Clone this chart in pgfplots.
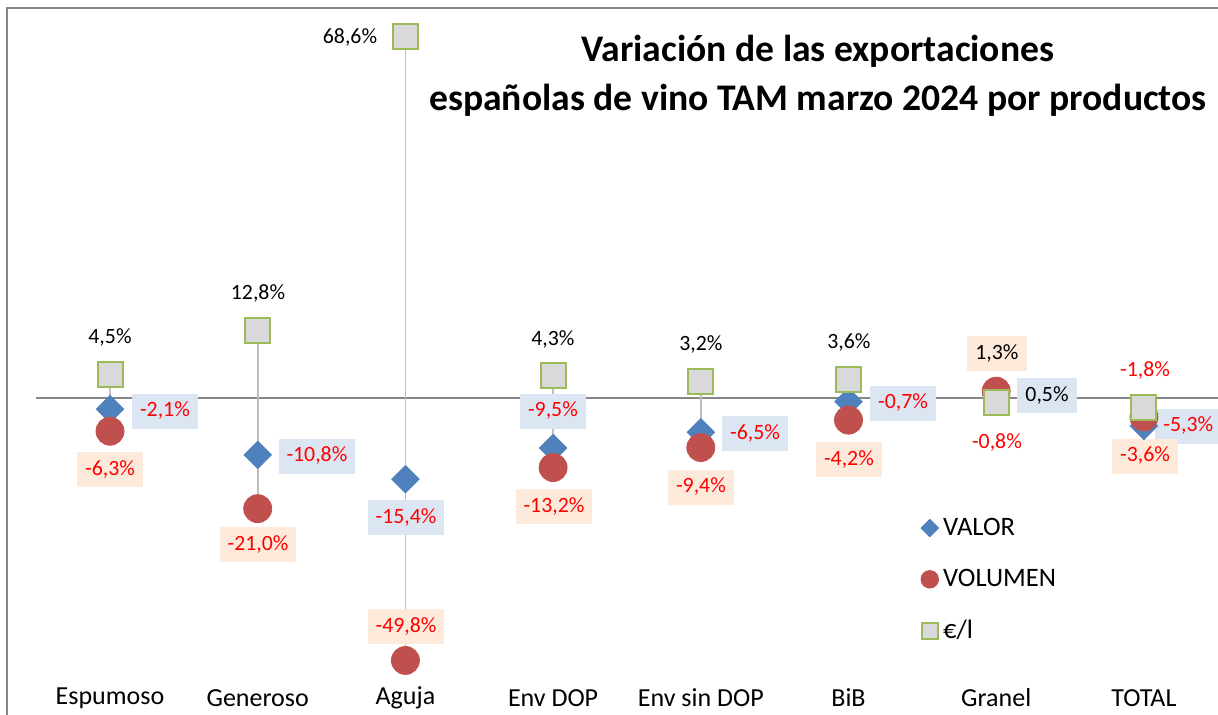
\documentclass[border=0pt]{standalone}
\usepackage{pgfplots}
\pgfplotsset{compat=1.18}
\usepackage{fontspec}
\setmainfont{Carlito}
\definecolor{cval}{RGB}{79,129,189}
\definecolor{cvol}{RGB}{192,80,77}
\definecolor{csqf}{RGB}{217,217,217}
\definecolor{csqd}{RGB}{155,187,89}
\definecolor{bgval}{RGB}{220,230,242}
\definecolor{bgvol}{RGB}{253,234,218}
\definecolor{cred}{RGB}{255,0,0}
\definecolor{cframe}{RGB}{134,134,134}
\definecolor{chilo}{RGB}{191,191,191}
\newcommand\lab{\fontsize{10.9}{12}\selectfont}
\tikzset{
  lbl/.style={font=\lab, inner sep=0pt, text height=7.6pt, text depth=2.2pt},
  bval/.style={lbl, fill=bgval, text=cred, inner xsep=4pt, minimum height=17.5pt},
  bvol/.style={lbl, fill=bgvol, text=cred, inner xsep=4pt, minimum height=17.5pt},
}
\begin{document}
\begin{tikzpicture}
\begin{axis}[
  scale only axis, width=609pt, height=357.5pt,
  xmin=-0.7448, xmax=7.5017, ymin=-60.15, ymax=75.52,
  axis line style={draw=none}, clip=false,
  ytick=\empty, xtick={0,...,7}, major tick length=0pt,
  xticklabels={Espumoso,Generoso,Aguja,Env DOP,Env sin DOP,BiB,Granel,TOTAL},
  xticklabel style={anchor=center, yshift=8.5pt, font=\fontsize{13}{14}\selectfont},
  legend cell align=left,
  legend style={draw=none, fill=none, at={(axis cs:5.484,-22.3)}, anchor=north west,
    font=\fontsize{13.3}{14}\selectfont, row sep=13.5pt, inner sep=0pt,
    nodes={inner sep=1pt}},
  legend image code/.code={\path (0pt,0pt) (10pt,0pt); \draw[#1] plot coordinates {(4.5pt,0pt)};},
]
% frame lines
\draw[cframe, line width=0.8pt] (axis cs:-0.6973,-60.15) -- (axis cs:-0.6973,74.0) -- (axis cs:7.6,74.0);
% zero line
\draw[cframe, line width=1pt] (axis cs:-0.5,0) -- (axis cs:7.6,0);
% hi-lo lines
\addplot[chilo, line width=0.8pt, unbounded coords=jump, forget plot] coordinates {
 (0,4.5) (0,-6.3) (0,nan)
 (1,12.8) (1,-21.0) (1,nan)
 (2,68.6) (2,-49.8) (2,nan)
 (3,4.3) (3,-13.2) (3,nan)
 (4,3.2) (4,-9.4) (4,nan)
 (5,3.6) (5,-4.2) (5,nan)
 (6,1.3) (6,-0.8) (6,nan)
 (7,-1.8) (7,-5.3)
};
% VALOR
\addplot[only marks, mark=square*, mark size=4.85pt, mark options={rotate=45, fill=cval, draw=cval}, forget plot] coordinates {
 (0,-2.1) (1,-10.8) (2,-15.4) (3,-9.5) (4,-6.5) (5,-0.7) (6,0.5) (7,-5.3)};
% VOLUMEN
\addplot[only marks, mark=*, mark size=7pt, mark options={fill=cvol, draw=cvol}, forget plot] coordinates {
 (0,-6.3) (1,-21.0) (2,-49.8) (3,-13.2) (4,-9.4) (5,-4.2) (6,1.3) (7,-3.6)};
% EUR/l
\addplot[only marks, mark=square*, mark size=6.25pt, mark options={fill=csqf, draw=csqd, line width=1pt}, forget plot] coordinates {
 (0,4.5) (1,12.8) (2,68.6) (3,4.3) (4,3.2) (5,3.6) (6,-0.8) (7,-1.8)};
% legend
\addlegendimage{only marks, mark=square*, mark size=3.1pt, mark options={rotate=45, fill=cval, draw=cval}}
\addlegendentry{VALOR}
\addlegendimage{only marks, mark=*, mark size=4.4pt, mark options={fill=cvol, draw=cvol}}
\addlegendentry{VOLUMEN}
\addlegendimage{only marks, mark=square*, mark size=3.9pt, mark options={fill=csqf, draw=csqd, line width=1pt}}
\addlegendentry{€/l}
% labels
\node[lbl] at (axis cs:0,11.39) {4,5\%};
\node[bval] at (axis cs:0.372,-2.47) {-2,1\%};
\node[bvol] at (axis cs:0,-13.66) {-6,3\%};
\node[lbl] at (axis cs:1.002,19.73) {12,8\%};
\node[bval] at (axis cs:1.401,-11.01) {-10,8\%};
\node[bvol] at (axis cs:1.002,-27.89) {-21,0\%};
\node[lbl] at (axis cs:1.625,68.31) {68,6\%};
\node[bval] at (axis cs:2.004,-22.77) {-15,4\%};
\node[bvol] at (axis cs:2.004,-43.45) {-49,8\%};
\node[lbl] at (axis cs:2.999,11.01) {4,3\%};
\node[bval] at (axis cs:2.999,-2.47) {-9,5\%};
\node[bvol] at (axis cs:3.006,-20.68) {-13,2\%};
\node[lbl] at (axis cs:4.001,10.06) {3,2\%};
\node[bval] at (axis cs:4.367,-6.83) {-6,5\%};
\node[bvol] at (axis cs:4.001,-16.89) {-9,4\%};
\node[lbl] at (axis cs:5.003,10.44) {3,6\%};
\node[bval] at (axis cs:5.369,-0.95) {-0,7\%};
\node[bvol] at (axis cs:5.003,-11.76) {-4,2\%};
\node[bvol, text=black] at (axis cs:6.005,8.35) {1,3\%};
\node[bval, text=black] at (axis cs:6.344,0.38) {0,5\%};
\node[lbl, text=cred] at (axis cs:6.005,-8.54) {-0,8\%};
\node[lbl, text=cred] at (axis cs:7.008,5.12) {-1,8\%};
\node[bval] at (axis cs:7.301,-5.41) {-5,3\%};
\node[bvol] at (axis cs:7.008,-11.01) {-3,6\%};
% title
\node[align=center, font=\bfseries\fontsize{18.8}{24.5}\selectfont] at (axis cs:4.793,61.2)
  {Variación de las exportaciones\\españolas de vino TAM marzo 2024 por productos};
\end{axis}
\pgfresetboundingbox
\useasboundingbox (current axis.south west) rectangle (current axis.north east);
\end{tikzpicture}
\end{document}
